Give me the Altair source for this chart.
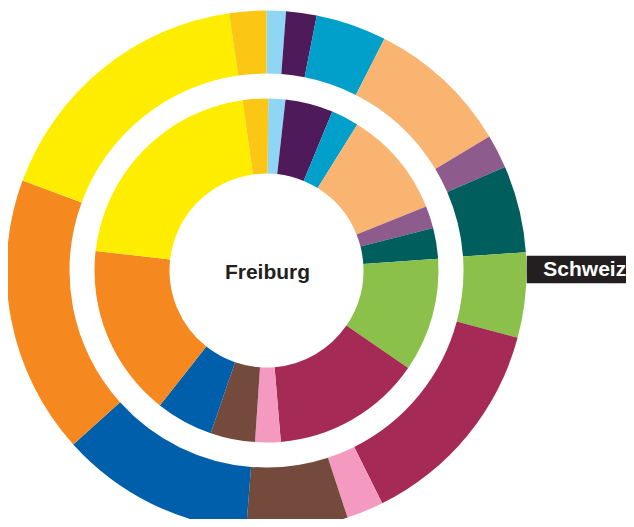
import altair as alt
import pandas as pd

# Categories (unlabelled in the original), in clockwise order from 12 o'clock
categories = [
    "Kategorie A", "Kategorie B", "Kategorie C", "Kategorie D", "Kategorie E",
    "Kategorie F", "Kategorie G", "Kategorie H", "Kategorie I", "Kategorie J",
    "Kategorie K", "Kategorie L", "Kategorie M", "Kategorie N",
]
colors = [
    "#8fd6f5", "#4e1a5a", "#00a0cb", "#f9b472", "#8e5c8c",
    "#005e5c", "#8bc14a", "#a52a55", "#f49ac1", "#744a3c",
    "#005faa", "#f58920", "#ffed00", "#fbc614",
]
# Shares in percent
freiburg = [1.6, 4.5, 2.6, 10.1, 2.1, 2.9, 10.7, 14.1, 2.4, 4.2, 5.4, 16.2, 21.0, 2.4]
schweiz = [1.2, 1.9, 4.4, 8.9, 2.1, 5.4, 5.3, 13.5, 2.3, 6.3, 12.1, 17.3, 17.1, 2.3]

inner_label = ["Freiburg"]
outer_label = ["Schweiz"]

TWO_PI = 6.283185307179586
inner_offset = 0.0105  # inner ring starts slightly past 12 o'clock

df_in = pd.DataFrame({"kategorie": categories, "anteil": freiburg, "idx": list(range(len(categories)))})
df_out = pd.DataFrame({"kategorie": categories, "anteil": schweiz, "idx": list(range(len(categories)))})

W, H = 618, 511
cx, cy = 258.5, 262.5
color_scale = alt.Scale(domain=categories, range=colors)

outer = alt.Chart(df_out).mark_arc(outerRadius=260, innerRadius=197, stroke=None).encode(
    theta=alt.Theta("anteil:Q", stack=True, scale=alt.Scale(range=[0, TWO_PI])),
    color=alt.Color("kategorie:N", scale=color_scale, legend=None),
    order=alt.Order("idx:Q"),
    x=alt.value(cx),
    y=alt.value(cy),
)

inner = alt.Chart(df_in).mark_arc(outerRadius=172, innerRadius=97, stroke=None).encode(
    theta=alt.Theta("anteil:Q", stack=True,
                    scale=alt.Scale(range=[inner_offset, TWO_PI + inner_offset])),
    color=alt.Color("kategorie:N", scale=color_scale, legend=None),
    order=alt.Order("idx:Q"),
    x=alt.value(cx),
    y=alt.value(cy),
)

center_text = alt.Chart(pd.DataFrame({"t": inner_label})).mark_text(
    font="Liberation Sans", fontSize=21, fontWeight="bold", color="#231f20",
    align="center", baseline="alphabetic",
).encode(text="t:N", x=alt.value(cx + 1), y=alt.value(271.3))

label_box = alt.Chart(pd.DataFrame({"t": outer_label})).mark_rect(color="#231f20").encode(
    x=alt.value(518.7), x2=alt.value(W), y=alt.value(247.7), y2=alt.value(275.3)
)

label_text = alt.Chart(pd.DataFrame({"t": outer_label})).mark_text(
    font="Liberation Sans", fontSize=21, fontWeight="bold", color="#ffffff",
    align="left", baseline="alphabetic",
).encode(text="t:N", x=alt.value(535.3), y=alt.value(267.7))

chart = alt.layer(outer, inner, label_box, center_text, label_text).resolve_scale(
    theta="independent"
).properties(
    width=W, height=H, padding=0,
    autosize=alt.AutoSizeParams(type="none"),
    background="#ffffff",
).configure_view(stroke=None)

chart.save("out.html", embed_options={"renderer": "svg", "actions": False})
